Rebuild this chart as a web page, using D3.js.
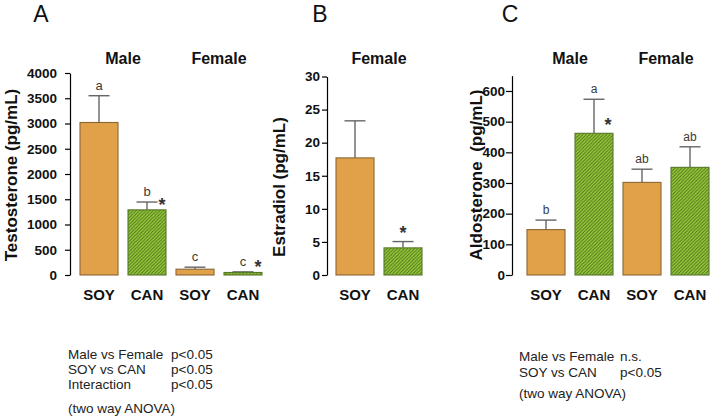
<!DOCTYPE html>
<html>
<head>
<meta charset="utf-8">
<script src="https://cdn.jsdelivr.net/npm/d3@7"></script>
<style>
  html, body { margin: 0; padding: 0; background: #fff; }
  svg { display: block; font-family: "Liberation Sans", Arial, Helvetica, sans-serif; }
</style>
</head>
<body>
<svg id="chart" width="710" height="419"></svg>
<script>
// ---------- DATA ----------
// Panel A: Testosterone (pg/mL)
const testosteroneCategories = ["SOY", "CAN", "SOY", "CAN"];
const testosteroneValues = [3020, 1290, 115, 50];
const testosteroneErrors = [530, 155, 40, 12];
const testosteroneLetters = ["a", "b", "c", "c"];
const testosteroneStars = [false, true, false, true];
const testosteroneTicks = [0, 500, 1000, 1500, 2000, 2500, 3000, 3500, 4000];
const testosteroneGroups = ["Male", "Female"];

// Panel B: Estradiol (pg/mL)
const estradiolCategories = ["SOY", "CAN"];
const estradiolValues = [17.7, 4.1];
const estradiolErrors = [5.6, 0.95];
const estradiolStars = [false, true];
const estradiolTicks = [0, 5, 10, 15, 20, 25, 30];
const estradiolGroups = ["Female"];

// Panel C: Aldosterone (pg/mL)
const aldosteroneCategories = ["SOY", "CAN", "SOY", "CAN"];
const aldosteroneValues = [148, 462, 302, 351];
const aldosteroneErrors = [31, 111, 43, 67];
const aldosteroneLetters = ["b", "a", "ab", "ab"];
const aldosteroneStars = [false, true, false, false];
const aldosteroneTicks = [0, 100, 200, 300, 400, 500, 600];
const aldosteroneGroups = ["Male", "Female"];

// Statistics notes
const statsA = [["Male vs Female", "p<0.05"], ["SOY vs CAN", "p<0.05"], ["Interaction", "p<0.05"]];
const statsC = [["Male vs Female", "n.s."], ["SOY vs CAN", "p<0.05"]];
const anovaNote = "(two way ANOVA)";

// ---------- DRAWING ----------
const svg = d3.select("#chart");
svg.append("rect").attr("width", 710).attr("height", 419).attr("fill", "#fff");

const ORANGE = "#E0A148", ORANGE_EDGE = "#8A6636";
const GREEN = "#9DCB3E", GREEN_LINE = "#4A7419", GREEN_EDGE = "#58772A";

const defs = svg.append("defs");
const pat = defs.append("pattern").attr("id", "hatch")
  .attr("patternUnits", "userSpaceOnUse").attr("width", 3.4).attr("height", 3.4);
pat.append("rect").attr("width", 3.4).attr("height", 3.4).attr("fill", GREEN);
pat.append("path").attr("d", "M-1,1 l2,-2 M0,3.4 l3.4,-3.4 M2.4,4.4 l2,-2")
  .attr("stroke", GREEN_LINE).attr("stroke-width", 1.05);

function panel(cfg) {
  const g = svg.append("g");
  const y = d3.scaleLinear().domain(cfg.domain).range([275, cfg.yTop]);
  const x = d3.scaleBand().domain(d3.range(cfg.cats.length))
    .range(cfg.xRange).paddingInner(10 / 48).paddingOuter(5 / 48);

  // axis
  const ax = g.append("g").attr("transform", `translate(${cfg.axisX},0)`)
    .call(d3.axisLeft(y).tickValues(cfg.ticks).tickFormat(d3.format("d"))
      .tickSize(cfg.tickSize).tickSizeOuter(0).tickPadding(cfg.tickPad));
  ax.attr("font-size", 13.5).attr("font-family", "Liberation Sans, Arial, sans-serif")
    .attr("font-weight", "bold");
  ax.select(".domain").attr("stroke", "#000").attr("stroke-width", 1.2);
  ax.selectAll(".tick line").attr("stroke", "#000").attr("stroke-width", 1.2);
  ax.selectAll(".tick text").attr("fill", "#111").attr("font-weight", "bold");

  const idx = d3.range(cfg.cats.length);
  // error bars
  const cap = 10.5;
  idx.forEach(i => {
    const cx = x(i) + x.bandwidth() / 2;
    const top = y(cfg.vals[i] + cfg.errs[i]);
    g.append("line").attr("x1", cx).attr("x2", cx).attr("y1", y(cfg.vals[i])).attr("y2", top)
      .attr("stroke", "#666").attr("stroke-width", 1.4);
    g.append("line").attr("x1", cx - cap).attr("x2", cx + cap).attr("y1", top).attr("y2", top)
      .attr("stroke", "#666").attr("stroke-width", 1.4);
  });
  // bars
  g.selectAll("rect.bar").data(idx).join("rect").attr("class", "bar")
    .attr("x", i => x(i)).attr("width", x.bandwidth())
    .attr("y", i => y(cfg.vals[i])).attr("height", i => 275 - y(cfg.vals[i]))
    .attr("fill", i => cfg.cats[i] === "SOY" ? ORANGE : "url(#hatch)")
    .attr("stroke", i => cfg.cats[i] === "SOY" ? ORANGE_EDGE : GREEN_EDGE)
    .attr("stroke-width", 1.1);

  // letters
  if (cfg.letters) {
    g.selectAll("text.letter").data(idx).join("text").attr("class", "letter")
      .attr("x", i => x(i) + x.bandwidth() / 2)
      .attr("y", i => y(cfg.vals[i] + cfg.errs[i]) - 6)
      .attr("text-anchor", "middle").attr("font-size", cfg.letterSize).attr("fill", "#3a3a3a")
      .text(i => cfg.letters[i]);
  }
  // stars
  idx.filter(i => cfg.stars[i]).forEach(i => {
    g.append("text")
      .attr("x", x(i) + x.bandwidth() / 2 + cfg.starDx)
      .attr("y", y(cfg.vals[i]) + cfg.starDy + 10)
      .attr("text-anchor", "middle").attr("font-size", 18).attr("font-weight", "bold")
      .attr("fill", "#333").text("*");
  });
  // x labels
  g.selectAll("text.xl").data(idx).join("text").attr("class", "xl")
    .attr("x", i => x(i) + x.bandwidth() / 2).attr("y", 300)
    .attr("text-anchor", "middle").attr("font-size", 15).attr("font-weight", "bold")
    .attr("fill", "#111").text(i => cfg.cats[i]);
  // group labels
  cfg.groups.forEach((gr, k) => {
    const a = x(2 * k), b = x(Math.min(2 * k + 1, cfg.cats.length - 1)) + x.bandwidth();
    g.append("text").attr("x", (a + b) / 2).attr("y", 64)
      .attr("text-anchor", "middle").attr("font-size", 16).attr("font-weight", "bold")
      .attr("fill", "#111").text(gr);
  });
  // y title
  g.append("text").attr("transform", `translate(${cfg.titleX},${cfg.titleY}) rotate(-90)`)
    .attr("text-anchor", "middle").attr("font-size", 17).attr("font-weight", "bold")
    .attr("fill", "#111").style("white-space", "pre").text(cfg.title);
  // panel letter
  g.append("text").attr("x", cfg.letterX).attr("y", 22).attr("text-anchor", "middle")
    .attr("font-size", 23).attr("fill", "#111").text(cfg.panelLetter);
}

panel({
  cats: testosteroneCategories, vals: testosteroneValues, errs: testosteroneErrors,
  letters: testosteroneLetters, stars: testosteroneStars, ticks: testosteroneTicks,
  groups: testosteroneGroups, domain: [0, 4000], yTop: 73, xRange: [75, 267],
  axisX: 70, tickSize: 5, tickPad: 8, letterSize: 13, starDx: 15, starDy: -9,
  title: "Testosterone (pg/mL)", titleX: 17, titleY: 175, panelLetter: "A", letterX: 41
});
panel({
  cats: estradiolCategories, vals: estradiolValues, errs: estradiolErrors,
  letters: null, stars: estradiolStars, ticks: estradiolTicks,
  groups: estradiolGroups, domain: [0, 30], yTop: 76.5, xRange: [331, 427],
  axisX: 327, tickSize: 5, tickPad: 2, letterSize: 12, starDx: 0, starDy: -19,
  title: "Estradiol (pg/mL)", titleX: 285, titleY: 187, panelLetter: "B", letterX: 320
});
panel({
  cats: aldosteroneCategories, vals: aldosteroneValues, errs: aldosteroneErrors,
  letters: aldosteroneLetters, stars: aldosteroneStars, ticks: aldosteroneTicks,
  groups: aldosteroneGroups, domain: [0, 650], yTop: 275 - 650 * 0.3067, xRange: [522, 714],
  axisX: 512, tickSize: 6, tickPad: 1, letterSize: 12, starDx: 14, starDy: -12.5,
  title: "Aldosterone  (pg/mL)", titleX: 482, titleY: 175, panelLetter: "C", letterX: 510
});

// stats notes
function notes(rows, x1, x2, baselines, noteY) {
  rows.forEach((r, i) => {
    svg.append("text").attr("x", x1).attr("y", baselines[i]).attr("font-size", 13.5)
      .attr("fill", "#222").text(r[0]);
    svg.append("text").attr("x", x2).attr("y", baselines[i]).attr("font-size", 13.5)
      .attr("fill", "#222").text(r[1]);
  });
  svg.append("text").attr("x", x1).attr("y", noteY).attr("font-size", 13.5)
    .attr("fill", "#222").text(anovaNote);
}
notes(statsA, 68, 171, [359, 374, 389], 413);
notes(statsC, 519, 620, [361, 377], 398);
</script>
</body>
</html>
